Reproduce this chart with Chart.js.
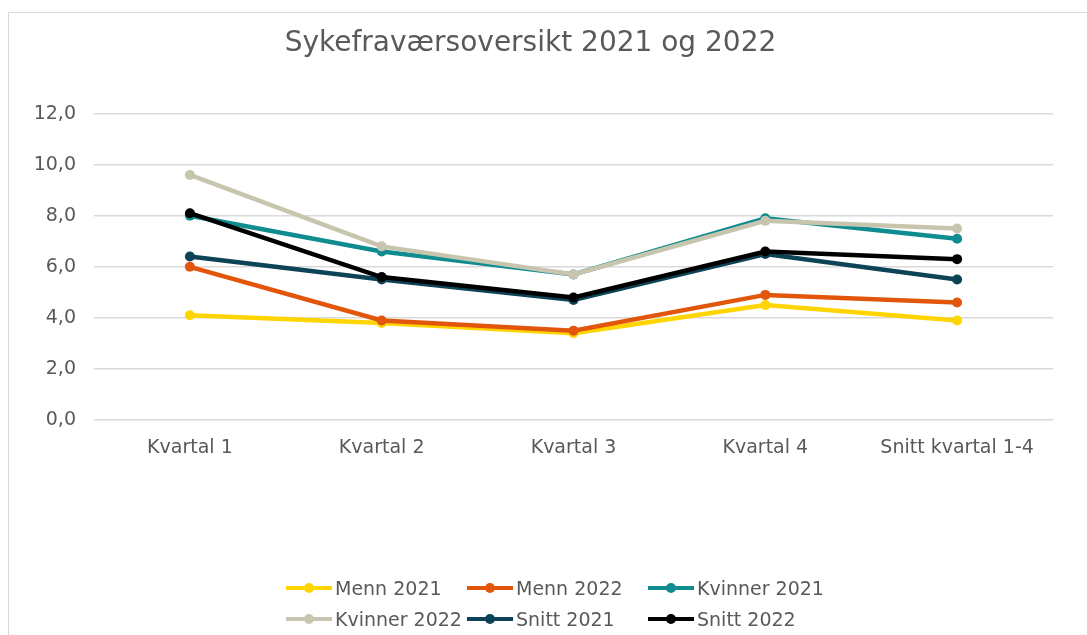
<!DOCTYPE html>
<html>
<head>
<meta charset="utf-8">
<script src="https://cdn.jsdelivr.net/npm/chart.js@4"></script>
<style>
  html, body { margin: 0; padding: 0; background: #fff; overflow: hidden; }
  body { width: 1087px; height: 635px; position: relative; font-family: "DejaVu Sans", Verdana, sans-serif; }
  #frame { position: absolute; left: 8px; top: 12px; width: 1200px; height: 700px; border: 1px solid #d9d9d9; box-sizing: border-box; }
  #wrap { position: absolute; left: 8px; top: 12px; width: 1055px; height: 623px; }
  #legend { position: absolute; left: 286px; top: 572px; display: grid; grid-template-columns: 181px 181px 181px; grid-auto-rows: 31px; }
  .item { display: flex; align-items: center; font-size: 19px; color: #595959; white-space: nowrap; }
  .mark { position: relative; width: 46px; height: 4px; margin-right: 3px; flex: none; }
  .mark i { position: absolute; left: 18px; top: -3px; width: 10px; height: 10px; border-radius: 50%; }
</style>
</head>
<body>
<div id="frame"></div>
<div id="wrap"><canvas id="chart" width="1055" height="623"></canvas></div>
<div id="legend"></div>
<script>
// data
const categories = ['Kvartal 1', 'Kvartal 2', 'Kvartal 3', 'Kvartal 4', 'Snitt kvartal 1-4'];
const seriesNames = ['Menn 2021', 'Menn 2022', 'Kvinner 2021', 'Kvinner 2022', 'Snitt 2021', 'Snitt 2022'];
const menn2021 = [4.1, 3.8, 3.4, 4.5, 3.9];
const menn2022 = [6.0, 3.9, 3.5, 4.9, 4.6];
const kvinner2021 = [8.0, 6.6, 5.7, 7.9, 7.1];
const kvinner2022 = [9.6, 6.8, 5.7, 7.8, 7.5];
const snitt2021 = [6.4, 5.5, 4.7, 6.5, 5.5];
const snitt2022 = [8.1, 5.6, 4.8, 6.6, 6.3];
const yTicks = [0, 2, 4, 6, 8, 10, 12];

const values = [menn2021, menn2022, kvinner2021, kvinner2022, snitt2021, snitt2022];
const colors = ['#FFD500', '#E2560C', '#0F8C90', '#C8C5AE', '#0D4356', '#000000'];
const textColor = '#595959';
const font = '"DejaVu Sans", Verdana, sans-serif';

const datasets = seriesNames.map((name, i) => ({
  label: name,
  data: values[i],
  borderColor: colors[i],
  backgroundColor: colors[i],
  borderWidth: 4.5,
  pointRadius: 5,
  pointHoverRadius: 5,
  pointBorderWidth: 0,
  tension: 0,
  order: seriesNames.length - i // later series on top, like the original
}));

new Chart(document.getElementById('chart'), {
  type: 'line',
  data: { labels: categories, datasets },
  options: {
    responsive: false,
    animation: false,
    layout: { padding: { left: 0, right: 10, top: 0, bottom: 175 } },
    plugins: {
      legend: { display: false },
      tooltip: { enabled: false },
      title: {
        display: true,
        text: 'Sykefraværsoversikt 2021 og 2022',
        color: textColor,
        font: { family: font, size: 28, weight: 'normal' },
        padding: { top: 15, bottom: 53 }
      }
    },
    scales: {
      x: {
        offset: true,
        grid: { display: false },
        border: { display: false },
        ticks: { color: textColor, font: { family: font, size: 19 }, padding: 9, maxRotation: 0 },
        afterFit: (s) => { s.height = 40; }
      },
      y: {
        min: 0,
        max: 12,
        afterBuildTicks: (s) => { s.ticks = yTicks.map(v => ({ value: v })); },
        grid: { color: '#d9d9d9', lineWidth: 1.5, drawTicks: false },
        border: { display: false },
        ticks: {
          color: textColor,
          font: { family: font, size: 19 },
          padding: 18,
          callback: (v) => v.toFixed(1).replace('.', ',')
        },
        afterFit: (s) => { s.width = 86; }
      }
    }
  }
});

// legend in the original's three-column layout
const legend = document.getElementById('legend');
seriesNames.forEach((name, i) => {
  const item = document.createElement('div');
  item.className = 'item';
  item.innerHTML = '<span class="mark" style="background:' + colors[i] + '"><i style="background:' + colors[i] + '"></i></span>' + name;
  legend.appendChild(item);
});
</script>
</body>
</html>
